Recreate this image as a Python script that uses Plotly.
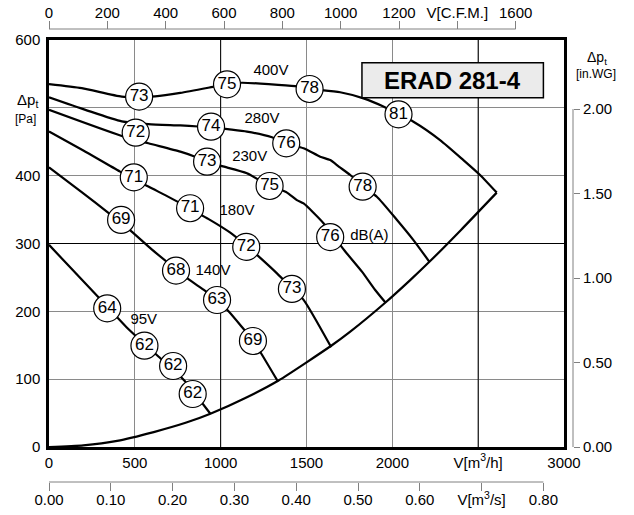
import plotly.graph_objects as go

# ---------------- data ----------------
# fan curves: air volume V [m3/h] and total pressure dp_t [Pa]
v400_V = [0, 191, 424, 525, 618, 765, 955, 1037, 1124, 1434, 1518, 1696, 1832, 1948, 2036, 2123, 2278, 2414, 2511, 2608]
v400_P = [535, 529, 516.5, 516.5, 517, 522, 531, 535, 537, 532, 528, 523, 514, 502, 490.5, 479.5, 452.5, 423, 401, 375]

v280_V = [0, 212, 424, 579, 765, 870, 944, 1027, 1153, 1299, 1382, 1483, 1580, 1638, 1690, 1755, 1828, 1910, 2026, 2123, 2216]
v280_P = [515.5, 497, 480, 476, 474, 472.5, 472, 469, 465, 456.6, 447.7, 440.4, 428, 423, 413, 401, 384, 369, 335, 305, 273]

v230_V = [0, 424, 579, 765, 851, 921, 1008, 1153, 1285, 1381, 1444, 1483, 1599, 1720, 1823, 1900, 1960]
v230_P = [497, 458.5, 447.7, 435.4, 428, 420.6, 414, 403.5, 384.8, 376, 364, 359, 330, 290, 258.5, 231.5, 213]

v180_V = [0, 200, 414, 579, 754, 822, 930, 1056, 1149, 1221, 1328, 1415, 1483, 1644]
v180_P = [465, 437, 406, 384, 361, 351, 336, 316, 297, 281, 256, 234, 217, 147]

v140_V = [0, 200, 346, 480, 600, 740, 814, 900, 979, 1046, 1120, 1188, 1231, 1334]
v140_P = [412.3, 374, 345, 318, 291, 262, 247, 232, 217, 200, 178, 157, 140, 96.3]

v95_V = [0, 339, 450, 556, 639, 723, 784, 837, 940]
v95_P = [298, 207, 177, 152, 133, 114, 99, 83, 49]

# system / limit curve
sys_V = [0, 200, 397, 610, 800, 940, 1150, 1337, 1648, 1755, 1960, 2104, 2216, 2400, 2608]
sys_P = [0, 2.5, 9, 22, 36, 49, 73, 98, 150, 170, 213, 246, 273, 320, 375]

# sound power level circles dB(A)
circ_V = [525, 1037, 1518, 2036,
          944, 1382, 1827,
          505, 921, 1285, 1638,
          494, 822, 1149, 1415,
          420, 740, 979, 1188,
          339, 556, 723, 837]
circ_P = [516.5, 534.7, 527.8, 490.5,
          472.2, 447.7, 383.8,
          463.4, 420.6, 384.8, 309.5,
          397.6, 352, 295, 233,
          334.7, 260, 216.7, 156.3,
          204.5, 149.4, 119.4, 78.1]
circ_txt = ["73", "75", "78", "81",
            "74", "76", "78",
            "72", "73", "75", "76",
            "71", "71", "72", "73",
            "69", "68", "63", "69",
            "64", "62", "62", "62"]

# curve labels
lbl_V = [1293, 1241, 1169, 1095, 955, 552, 1866]
lbl_P = [554, 483, 427, 347, 259, 187, 310]
lbl_txt = ["400V", "280V", "230V", "180V", "140V", "95V", "dB(A)"]

# axis ticks
x_ticks = [0, 500, 1000, 1500, 2000, 2500, 3000]
x_text = ["0", "500", "1000", "1500", "2000", "V[m<sup>3</sup>/h]", "3000"]
y_ticks = [0, 100, 200, 300, 400, 500, 600]
y_text = ["0", "100", "200", "300", "400", "", "600"]
cfm_ticks = [0, 200, 400, 600, 800, 1000, 1200, 1400, 1600]
cfm_text = ["0", "200", "400", "600", "800", "1000", "1200", "V[C.F.M.]", "1600"]
ms_ticks = [0, 0.1, 0.2, 0.3, 0.4, 0.5, 0.6, 0.7, 0.8]
ms_text = ["0.00", "0.10", "0.20", "0.30", "0.40", "0.50", "0.60", "V[m<sup>3</sup>/s]", "0.80"]
wg_ticks = [0, 0.5, 1.0, 1.5, 2.0]
wg_text = ["0.00", "0.50", "1.00", "1.50", "2.00"]

TITLE = "ERAD 281-4"

# ---------------- layout geometry ----------------
W, H = 634, 515
PL, PR, PT, PB = 49, 564, 40, 447          # plot frame in px
ML, MR, MT, MB = 49, 61, 29, 33            # paper margins
PW = W - ML - MR
PH = H - MT - MB


def px_x(p):
    return (p - ML) / PW


def px_y(p):
    return (H - MB - p) / PH


FONT = "Liberation Sans, Arial, Helvetica, sans-serif"
GRID = "#8a8a8a"
AXG = "#808080"

fig = go.Figure()

curve_style = dict(color="black", width=2.2)
for vx, vy in [(v400_V, v400_P), (v280_V, v280_P), (v230_V, v230_P),
               (v180_V, v180_P), (v140_V, v140_P), (v95_V, v95_P),
               (sys_V, sys_P)]:
    fig.add_trace(go.Scatter(x=vx, y=vy, mode="lines",
                             line=dict(curve_style, shape="spline", smoothing=0.6),
                             hoverinfo="skip", showlegend=False))

fig.add_trace(go.Scatter(x=lbl_V, y=lbl_P, mode="text", text=lbl_txt,
                         textfont=dict(family=FONT, size=15, color="black"),
                         hoverinfo="skip", showlegend=False))

fig.add_trace(go.Scatter(x=circ_V, y=circ_P, mode="markers+text", text=circ_txt,
                         textposition="middle center",
                         marker=dict(size=27, color="white", line=dict(color="black", width=1.2)),
                         textfont=dict(family=FONT, size=17, color="black"),
                         hoverinfo="skip", showlegend=False))

# invisible anchors for the secondary axes
fig.add_trace(go.Scatter(x=[0, 1765.7], y=[0, 0], xaxis="x2", yaxis="y", mode="markers",
                         marker=dict(opacity=0), hoverinfo="skip", showlegend=False))
fig.add_trace(go.Scatter(x=[0, 0.8333], y=[0, 0], xaxis="x3", yaxis="y", mode="markers",
                         marker=dict(opacity=0), hoverinfo="skip", showlegend=False))
fig.add_trace(go.Scatter(x=[0, 0], y=[0, 2.4088], xaxis="x", yaxis="y2", mode="markers",
                         marker=dict(opacity=0), hoverinfo="skip", showlegend=False))

tickfont = dict(family=FONT, size=15, color="black")

shapes = [
    # darker grid lines
    dict(type="line", xref="x", yref="y", x0=1000, x1=1000, y0=0, y1=600, layer="between",
         line=dict(color="black", width=1)),
    dict(type="line", xref="x", yref="y", x0=2500, x1=2500, y0=0, y1=600, layer="between",
         line=dict(color="black", width=1)),
    dict(type="line", xref="x", yref="y", x0=0, x1=3000, y0=300, y1=300, layer="between",
         line=dict(color="black", width=1)),
    # partial axis lines of secondary scales
    dict(type="line", xref="x2", yref="paper", x0=0, x1=1600, y0=1, y1=1,
         line=dict(color=AXG, width=1)),
    dict(type="line", xref="x3", yref="paper", x0=0, x1=0.8, y0=0, y1=0,
         line=dict(color=AXG, width=1)),
    dict(type="line", xref="paper", yref="y2", x0=1, x1=1, y0=0, y1=2.0,
         line=dict(color=AXG, width=1)),
    # title box
    dict(type="rect", xref="x", yref="y", x0=1823, x1=2880, y0=515, y1=566.6,
         fillcolor="#ebebeb", line=dict(color="black", width=1.5)),
]


def ann(px, py, text, size):
    return dict(x=px_x(px), y=px_y(py), xref="paper", yref="paper", text=text,
                showarrow=False, xanchor="center", yanchor="middle",
                font=dict(family=FONT, size=size, color="black"))


annotations = [
    dict(x=2351, y=541, xref="x", yref="y", text="<b>%s</b>" % TITLE, showarrow=False,
         xanchor="center", yanchor="middle",
         font=dict(family=FONT, size=24, color="black")),
    ann(27, 100, "Δp<sub>t</sub>", 15),
    ann(25, 119, "[Pa]", 12),
    ann(597, 58, "Δp<sub>t</sub>", 14),
    ann(596, 74, "[in.WG]", 12),
]

fig.update_layout(
    width=W, height=H,
    margin=dict(l=ML, r=MR, t=MT, b=MB, pad=0, autoexpand=False),
    paper_bgcolor="white", plot_bgcolor="white",
    showlegend=False,
    xaxis=dict(domain=[0, (PR - ML) / PW], range=[0, 3000], tickvals=x_ticks, ticktext=x_text,
               showgrid=True, gridcolor=GRID, gridwidth=1, zeroline=False,
               showline=True, linecolor="black", linewidth=2.5, mirror=True,
               ticks="", tickfont=tickfont, ticklabelstandoff=0, fixedrange=True,
               automargin=False),
    yaxis=dict(domain=[px_y(PB), px_y(PT)], range=[0, 600], tickvals=y_ticks, ticktext=y_text,
               showgrid=True, gridcolor=GRID, gridwidth=1, zeroline=False,
               showline=True, linecolor="black", linewidth=2.5, mirror=True,
               ticks="", tickfont=tickfont, ticklabelstandoff=3, fixedrange=True,
               automargin=False),
    xaxis2=dict(overlaying="x", side="top", anchor="free", position=1,
                range=[0, 1765.7], tickvals=cfm_ticks, ticktext=cfm_text,
                showgrid=False, zeroline=False, showline=False,
                ticks="outside", ticklen=8, tickcolor=AXG, tickwidth=1,
                tickfont=tickfont, ticklabelstandoff=-3, fixedrange=True, automargin=False),
    xaxis3=dict(overlaying="x", side="bottom", anchor="free", position=0,
                range=[0, 0.8333], tickvals=ms_ticks, ticktext=ms_text,
                showgrid=False, zeroline=False, showline=False,
                ticks="outside", ticklen=8, tickcolor=AXG, tickwidth=1,
                tickfont=tickfont, ticklabelstandoff=-4, fixedrange=True, automargin=False),
    yaxis2=dict(overlaying="y", side="right", anchor="free", position=1,
                range=[0, 2.4088], tickvals=wg_ticks, ticktext=wg_text,
                showgrid=False, zeroline=False, showline=False,
                ticks="outside", ticklen=6, tickcolor=AXG, tickwidth=1,
                tickfont=tickfont, fixedrange=True, automargin=False),
    shapes=shapes,
    annotations=annotations,
)

fig.write_html("out.html", config={"displayModeBar": False},
               post_script="document.body.style.margin='0px';")
